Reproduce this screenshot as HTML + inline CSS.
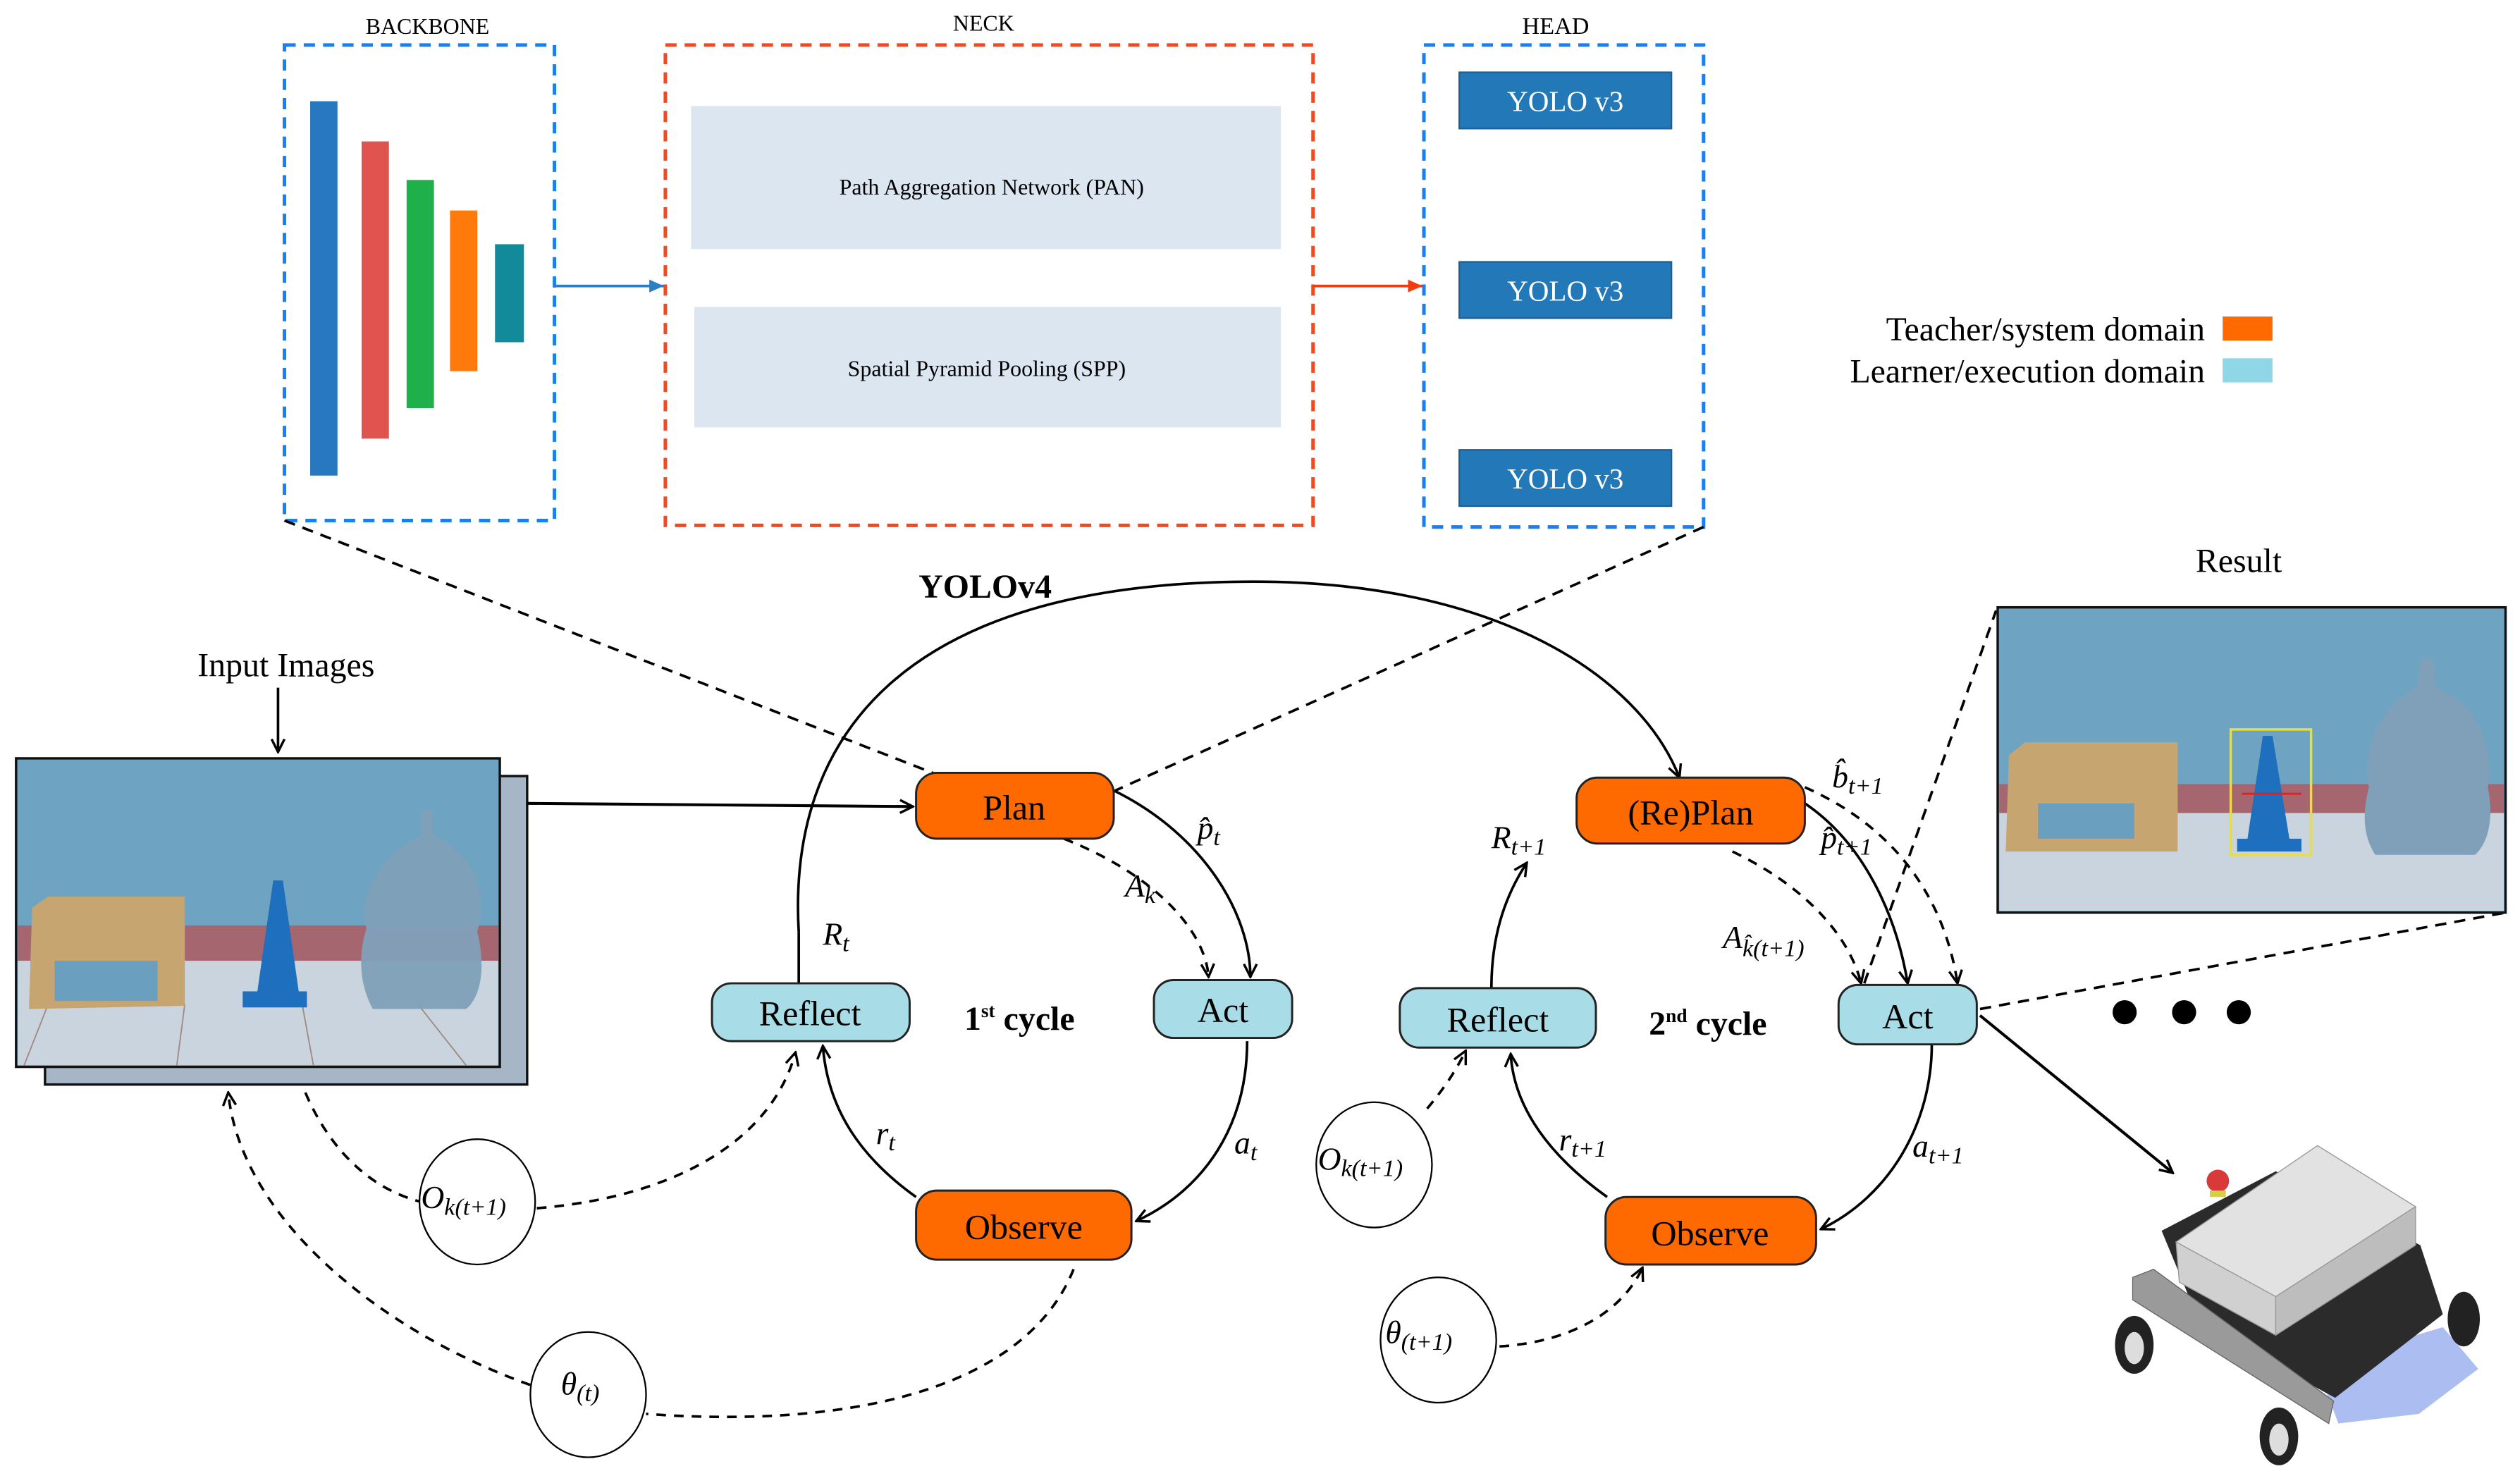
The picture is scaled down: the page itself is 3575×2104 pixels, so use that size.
<!DOCTYPE html>
<html><head><meta charset="utf-8"><style>
html,body{margin:0;padding:0;background:#fff}
svg{display:block}
svg text{font-family:"Liberation Serif","DejaVu Serif",serif}
.m{font-style:italic;font-size:20px}
</style></head><body>
<svg width="3575" height="2104" viewBox="0 0 1568 923" preserveAspectRatio="none" xmlns="http://www.w3.org/2000/svg" font-family="Liberation Serif, DejaVu Serif, serif">
<defs>
<marker id="a" markerWidth="10" markerHeight="10" refX="9" refY="5" orient="auto" markerUnits="userSpaceOnUse"><path d="M1,1 L9,5 L1,9" fill="none" stroke="#000" stroke-width="1.5"/></marker>
<marker id="ab" markerWidth="10" markerHeight="10" refX="9" refY="5" orient="auto" markerUnits="userSpaceOnUse"><path d="M0,1 L9,5 L0,9 Z" fill="#2a7fc7"/></marker>
<marker id="ar" markerWidth="10" markerHeight="10" refX="9" refY="5" orient="auto" markerUnits="userSpaceOnUse"><path d="M0,1 L9,5 L0,9 Z" fill="#f23c10"/></marker>
</defs>

<!-- top YOLO architecture -->
<text x="266" y="21" font-size="14" text-anchor="middle">BACKBONE</text>
<rect x="177" y="28" width="168" height="296" fill="none" stroke="#1a7ff0" stroke-width="2.2" stroke-dasharray="7,5"/>
<rect x="193" y="63" width="17" height="233" fill="#2878c0"/>
<rect x="225" y="88" width="17" height="185" fill="#e05450"/>
<rect x="253" y="112" width="17" height="142" fill="#1fb04c"/>
<rect x="280" y="131" width="17" height="100" fill="#ff7a0a"/>
<rect x="308" y="152" width="18" height="61" fill="#128a9a"/>
<line x1="345" y1="178" x2="413" y2="178" stroke="#2a7fc7" stroke-width="1.6" marker-end="url(#ab)"/>

<text x="612" y="19" font-size="14" text-anchor="middle">NECK</text>
<rect x="414" y="28" width="403" height="299" fill="none" stroke="#f04a20" stroke-width="2.2" stroke-dasharray="7,5"/>
<rect x="430" y="66" width="367" height="89" fill="#dbe6f1"/>
<rect x="432" y="191" width="365" height="75" fill="#dbe6f1"/>
<text x="617" y="121" font-size="14" text-anchor="middle">Path Aggregation Network (PAN)</text>
<text x="614" y="234" font-size="14" text-anchor="middle">Spatial Pyramid Pooling (SPP)</text>
<line x1="817" y1="178" x2="885" y2="178" stroke="#f23c10" stroke-width="1.6" marker-end="url(#ar)"/>

<text x="968" y="21" font-size="15" text-anchor="middle">HEAD</text>
<rect x="886" y="28" width="174" height="300" fill="none" stroke="#1a7ff0" stroke-width="2.2" stroke-dasharray="7,5"/>
<g fill="#2378b8" stroke="#1b5f94" stroke-width="1">
<rect x="908" y="45" width="132" height="35"/>
<rect x="908" y="163" width="132" height="35"/>
<rect x="908" y="280" width="132" height="35"/>
</g>
<g fill="#fff" font-size="18" text-anchor="middle">
<text x="974" y="69">YOLO v3</text>
<text x="974" y="187">YOLO v3</text>
<text x="974" y="304">YOLO v3</text>
</g>

<!-- legend -->
<text x="1372" y="212" font-size="21" text-anchor="end">Teacher/system domain</text>
<rect x="1383" y="197" width="31" height="15" fill="#ff6a00"/>
<text x="1372" y="238" font-size="21" text-anchor="end">Learner/execution domain</text>
<rect x="1383" y="223" width="31" height="15" fill="#8fd6e6"/>

<!-- dashed projection lines -->
<g fill="none" stroke="#000" stroke-width="1.6" stroke-dasharray="7,5">
<line x1="177" y1="324" x2="588" y2="484"/>
<line x1="1060" y1="328" x2="694" y2="492"/>
<line x1="1160" y1="612" x2="1242" y2="380"/>
<line x1="1232" y1="628" x2="1559" y2="568"/>
</g>
<text x="613" y="372" font-size="21" font-weight="bold" text-anchor="middle">YOLOv4</text>

<!-- big arc Reflect -> RePlan -->
<path d="M497,580 C490,460 560,362 780,362 C930,362 1020,420 1045,484" fill="none" stroke="#000" stroke-width="1.6" marker-end="url(#a)"/>
<line x1="497" y1="580" x2="497" y2="612" stroke="#000" stroke-width="1.6"/>

<!-- input images -->
<text x="178" y="421" font-size="21" text-anchor="middle">Input Images</text>
<line x1="173" y1="428" x2="173" y2="468" stroke="#000" stroke-width="1.6" marker-end="url(#a)"/>
<rect x="28" y="483" width="300" height="192" fill="#a6b6c6" stroke="#111" stroke-width="1.5"/>
<g>
<rect x="10" y="472" width="301" height="192" fill="#6fa3c2" stroke="#111" stroke-width="1.5"/>
<rect x="11" y="576" width="299" height="22" fill="#a56670"/>
<rect x="11" y="598" width="299" height="65" fill="#c9d4de"/>
<path d="M15,663 L30,625 M110,663 L115,625 M195,663 L188,625 M290,663 L260,625" stroke="#a08880" stroke-width="0.8"/>
<path d="M20,565 L30,558 L115,558 L115,626 L18,628 Z" fill="#c7a570"/>
<rect x="34" y="598" width="64" height="25" fill="#6a9fc0"/>
<path d="M170,548 L176,548 L186,618 L160,618 Z" fill="#1e6fbd"/>
<rect x="151" y="617" width="40" height="10" fill="#1e6fbd"/>
<path d="M262,504 L269,504 L270,520 C300,535 302,560 297,580 C302,600 300,620 290,628 L232,628 C222,610 224,590 228,578 C224,560 232,535 262,520 Z" fill="#7fa0b8" opacity="0.95"/>
</g>
<line x1="328" y1="500" x2="568" y2="502" stroke="#000" stroke-width="1.8" marker-end="url(#a)"/>

<!-- 1st cycle connectors -->
<g fill="none" stroke="#000" stroke-width="1.6">
<path d="M693,492 C750,520 778,570 778,608" marker-end="url(#a)"/>
<path d="M662,522 C720,545 750,580 752,608" stroke-dasharray="6,5" marker-end="url(#a)"/>
<path d="M776,648 C776,700 750,740 707,760" marker-end="url(#a)"/>
<path d="M570,745 C535,720 515,690 512,651" marker-end="url(#a)"/>
<path d="M190,680 C205,715 230,740 262,748" stroke-dasharray="6,5"/>
<path d="M334,752 C420,745 480,710 495,655" stroke-dasharray="6,5" marker-end="url(#a)"/>
<path d="M668,790 C640,860 540,890 402,880" stroke-dasharray="6,5"/>
<path d="M330,862 C240,830 150,760 142,680" stroke-dasharray="6,5" marker-end="url(#a)"/>
</g>

<!-- 2nd cycle connectors -->
<g fill="none" stroke="#000" stroke-width="1.6">
<path d="M928,615 C928,585 935,560 950,537" marker-end="url(#a)"/>
<path d="M888,690 C898,678 905,668 912,654" stroke-dasharray="6,5" marker-end="url(#a)"/>
<path d="M1000,745 C965,720 942,690 940,656" marker-end="url(#a)"/>
<path d="M1202,650 C1202,700 1175,745 1133,765" marker-end="url(#a)"/>
<path d="M1123,500 C1160,525 1180,570 1187,612" marker-end="url(#a)"/>
<path d="M1078,530 C1120,550 1150,580 1158,612" stroke-dasharray="6,5" marker-end="url(#a)"/>
<path d="M1123,490 C1180,515 1210,560 1218,612" stroke-dasharray="6,5" marker-end="url(#a)"/>
<path d="M933,838 C980,835 1010,815 1022,789" stroke-dasharray="6,5" marker-end="url(#a)"/>
</g>
<line x1="1232" y1="632" x2="1352" y2="730" stroke="#000" stroke-width="1.8" marker-end="url(#a)"/>

<!-- nodes -->
<g stroke="#222" stroke-width="1.3">
<rect x="570" y="481" width="123" height="41" rx="13" fill="#ff6a00"/>
<rect x="718" y="610" width="86" height="36" rx="12" fill="#a8dde8"/>
<rect x="443" y="612" width="123" height="36" rx="12" fill="#a8dde8"/>
<rect x="570" y="741" width="134" height="43" rx="13" fill="#ff6a00"/>
<rect x="981" y="484" width="142" height="41" rx="13" fill="#ff6a00"/>
<rect x="871" y="615" width="122" height="37" rx="12" fill="#a8dde8"/>
<rect x="1144" y="613" width="86" height="37" rx="12" fill="#a8dde8"/>
<rect x="999" y="745" width="131" height="42" rx="13" fill="#ff6a00"/>
</g>
<g font-size="22" text-anchor="middle">
<text x="631" y="510">Plan</text>
<text x="761" y="636">Act</text>
<text x="504" y="638">Reflect</text>
<text x="637" y="771">Observe</text>
<text x="1052" y="513">(Re)Plan</text>
<text x="932" y="642">Reflect</text>
<text x="1187" y="640">Act</text>
<text x="1064" y="775">Observe</text>
</g>
<text x="600" y="641" font-size="21" font-weight="bold">1<tspan font-size="12" dy="-8">st</tspan><tspan dy="8"> cycle</tspan></text>
<text x="1026" y="644" font-size="21" font-weight="bold">2<tspan font-size="12" dy="-8">nd</tspan><tspan dy="8"> cycle</tspan></text>

<!-- math labels -->
<text class="m" x="745" y="522">p̂<tspan font-size="15" dy="4">t</tspan></text>
<text class="m" x="700" y="558">A<tspan font-size="15" dy="4">k</tspan></text>
<text class="m" x="512" y="588">R<tspan font-size="15" dy="4">t</tspan></text>
<text class="m" x="768" y="718">a<tspan font-size="15" dy="4">t</tspan></text>
<text class="m" x="545" y="712">r<tspan font-size="15" dy="4">t</tspan></text>
<text class="m" x="928" y="528">R<tspan font-size="15" dy="4">t+1</tspan></text>
<text class="m" x="1140" y="490">b̂<tspan font-size="15" dy="4">t+1</tspan></text>
<text class="m" x="1133" y="528">p̂<tspan font-size="15" dy="4">t+1</tspan></text>
<text class="m" x="1072" y="590">A<tspan font-size="15" dy="5">k̂(t+1)</tspan></text>
<text class="m" x="970" y="716">r<tspan font-size="15" dy="4">t+1</tspan></text>
<text class="m" x="1190" y="720">a<tspan font-size="15" dy="4">t+1</tspan></text>

<!-- circles -->
<g fill="#fff" stroke="#000" stroke-width="1">
<ellipse cx="297" cy="748" rx="36" ry="39"/>
<ellipse cx="366" cy="868" rx="36" ry="39"/>
<ellipse cx="855" cy="725" rx="36" ry="39"/>
<ellipse cx="895" cy="834" rx="36" ry="39"/>
</g>
<text class="m" x="262" y="752">O<tspan font-size="15" dy="4">k(t+1)</tspan></text>
<text class="m" x="349" y="868">θ<tspan font-size="15" dy="4">(t)</tspan></text>
<text class="m" x="820" y="728">O<tspan font-size="15" dy="4">k(t+1)</tspan></text>
<text class="m" x="862" y="836">θ<tspan font-size="15" dy="4">(t+1)</tspan></text>

<!-- result -->
<text x="1393" y="356" font-size="21" text-anchor="middle">Result</text>
<g>
<rect x="1243" y="378" width="316" height="190" fill="#6fa3c2" stroke="#111" stroke-width="1.5"/>
<rect x="1244" y="488" width="314" height="18" fill="#a56670"/>
<rect x="1244" y="506" width="314" height="61" fill="#c9d4de"/>
<path d="M1250,470 L1260,462 L1355,462 L1355,530 L1248,530 Z" fill="#c7a570"/>
<rect x="1268" y="500" width="60" height="22" fill="#6a9fc0"/>
<path d="M1408,458 L1414,458 L1425,525 L1398,525 Z" fill="#1e6fbd"/>
<rect x="1392" y="522" width="40" height="8" fill="#1e6fbd"/>
<path d="M1506,410 L1514,410 L1516,428 C1545,440 1552,470 1548,490 C1552,510 1548,525 1540,532 L1478,532 C1470,520 1470,505 1474,490 C1470,470 1478,440 1504,428 Z" fill="#7fa0b8"/>
<rect x="1388" y="454" width="50" height="78" fill="none" stroke="#f0e020" stroke-width="1.5"/>
<line x1="1395" y1="494" x2="1432" y2="494" stroke="#e02020" stroke-width="1.2"/>
</g>

<circle cx="1322" cy="630" r="7.5" fill="#000"/>
<circle cx="1359" cy="630" r="7.5" fill="#000"/>
<circle cx="1393" cy="630" r="7.5" fill="#000"/>

<!-- robot -->
<g>
<path d="M1449,870 L1440,850 L1520,826 L1542,852 L1505,880 L1455,886 Z" fill="#9eb2ee" opacity="0.85"/>
<path d="M1345,766 L1416,729 L1506,775 L1520,818 L1453,870 L1369,824 Z" fill="#2b2b2b"/>
<path d="M1327,795 L1340,790 L1452,872 L1449,886 L1327,809 Z" fill="#9a9a9a" stroke="#666" stroke-width="0.6"/>
<path d="M1354,773 L1442,713 L1503,751 L1416,807 Z" fill="#e2e2e2" stroke="#999" stroke-width="0.6"/>
<path d="M1354,773 L1416,807 L1416,831 L1356,798 Z" fill="#d0d0d0" stroke="#999" stroke-width="0.6"/>
<path d="M1416,807 L1503,751 L1503,775 L1416,831 Z" fill="#bdbdbd" stroke="#999" stroke-width="0.6"/>
<circle cx="1380" cy="735" r="7" fill="#d83a3a"/>
<rect x="1375" y="741" width="10" height="4" fill="#d8d040"/>
<ellipse cx="1328" cy="837" rx="12" ry="18" fill="#222"/>
<ellipse cx="1328" cy="839" rx="6" ry="10" fill="#ddd"/>
<ellipse cx="1418" cy="894" rx="12" ry="18" fill="#222"/>
<ellipse cx="1418" cy="896" rx="6" ry="10" fill="#ddd"/>
<ellipse cx="1533" cy="821" rx="10" ry="17" fill="#222"/>
</g>
</svg>
</body></html>
